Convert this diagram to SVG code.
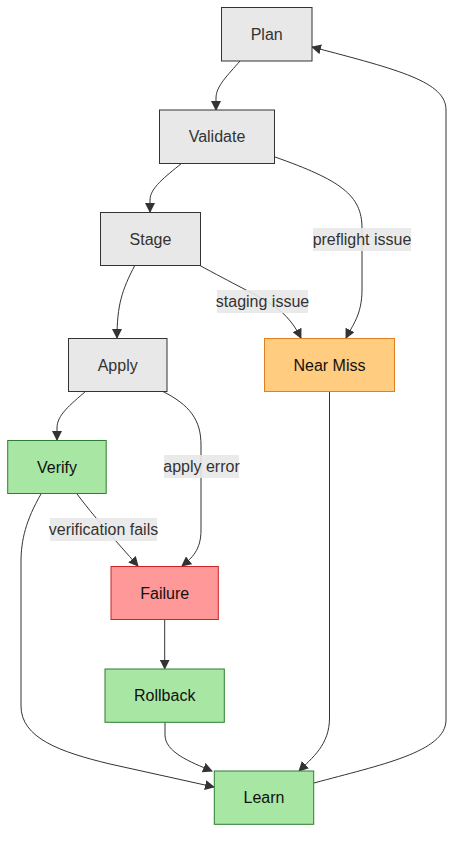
<svg xmlns="http://www.w3.org/2000/svg" width="462" height="846" viewBox="0 0 462 846">
<defs>
<marker id="arr" viewBox="0 0 10 10" refX="9" refY="5" markerUnits="userSpaceOnUse" markerWidth="10" markerHeight="10" orient="auto">
<path d="M0,0 L10,5 L0,10 z" fill="#333"/>
</marker>
<style>
text{font-family:"Liberation Sans",Arial,sans-serif;font-size:16px;text-anchor:middle;dominant-baseline:central}
.gray rect{fill:#e8e8e8;stroke:#333;stroke-width:1}
.gray text{fill:#333}
.orange rect{fill:#ffcc80;stroke:#e08020;stroke-width:1}
.red rect{fill:#ff9999;stroke:#cc2222;stroke-width:1}
.green rect{fill:#a8e6a3;stroke:#2e7d32;stroke-width:1}
.orange text,.red text,.green text{fill:#111}
.edge{fill:none;stroke:#333;stroke-width:1;marker-end:url(#arr)}
.lbl rect{fill:#e8e8e8;opacity:0.9}
.lbl text{fill:#333}
</style>
</defs>
<g id="connectors">
<path class="edge" d="M240,61 C228,75 216,86 216,98 L216,110"/>
<path class="edge" d="M182,163 C165,177 150,188 150,200 L150,212"/>
<path class="edge" d="M275,157 C340,180 362,195 362,228 L362,290 C362,315 352,326 346,338"/>
<path class="edge" d="M135,265 C122,290 117,305 117,338"/>
<path class="edge" d="M199,265 C230,282 262,298 268,302 C282,311 292,320 301,338"/>
<path class="edge" d="M86,391 C70,405 57,415 57,428 L57,440"/>
<path class="edge" d="M162,391 C190,405 201,420 201,445 L201,530 C201,550 192,558 182,566"/>
<path class="edge" d="M77,494 C95,518 115,540 138,566"/>
<path class="edge" d="M41,494 C26,520 21,540 21,562 L21,706 C21,738 60,752 110,764 L214,787"/>
<path class="edge" d="M164.7,620 L164.7,668.7"/>
<path class="edge" d="M165,722 L165,735 C165,752 190,762 212,771"/>
<path class="edge" d="M329.5,391 L329.5,718 C329.5,745 312,758 299,771"/>
<path class="edge" d="M314,783 C380,765 446,752 446,720 L446,110 C446,82 400,70 312,47"/>
</g>
<g id="labels">
<g class="lbl"><rect x="313" y="228" width="98" height="23"/><text x="362" y="239.5">preflight issue</text></g>
<g class="lbl"><rect x="217" y="290" width="91" height="23"/><text x="262.5" y="301.5">staging issue</text></g>
<g class="lbl"><rect x="164" y="455" width="75" height="23"/><text x="201.5" y="466.5">apply error</text></g>
<g class="lbl"><rect x="50" y="518" width="107" height="23"/><text x="103.5" y="529.5">verification fails</text></g>
</g>
<g id="plan" class="gray"><rect x="221.5" y="7.5" width="90.5" height="53.5"/><text x="266.7" y="34.2">Plan</text></g>
<g id="validate" class="gray"><rect x="159.5" y="110" width="115" height="53.5"/><text x="217" y="136.7">Validate</text></g>
<g id="stage" class="gray"><rect x="100.5" y="212.5" width="100" height="53"/><text x="150.5" y="239">Stage</text></g>
<g id="apply" class="gray"><rect x="68.5" y="338.5" width="98.5" height="53"/><text x="117.7" y="365">Apply</text></g>
<g id="nearmiss" class="orange"><rect x="264.5" y="338.5" width="130" height="53"/><text x="329.5" y="365">Near Miss</text></g>
<g id="verify" class="green"><rect x="7.7" y="440.5" width="98.5" height="53"/><text x="57" y="467">Verify</text></g>
<g id="failure" class="red"><rect x="111" y="566.5" width="107.3" height="53"/><text x="164.7" y="593">Failure</text></g>
<g id="rollback" class="green"><rect x="105" y="669" width="119.3" height="53.3"/><text x="164.7" y="695.7">Rollback</text></g>
<g id="learn" class="green"><rect x="214.3" y="771" width="99.4" height="53.3"/><text x="264" y="797.7">Learn</text></g>
</svg>
